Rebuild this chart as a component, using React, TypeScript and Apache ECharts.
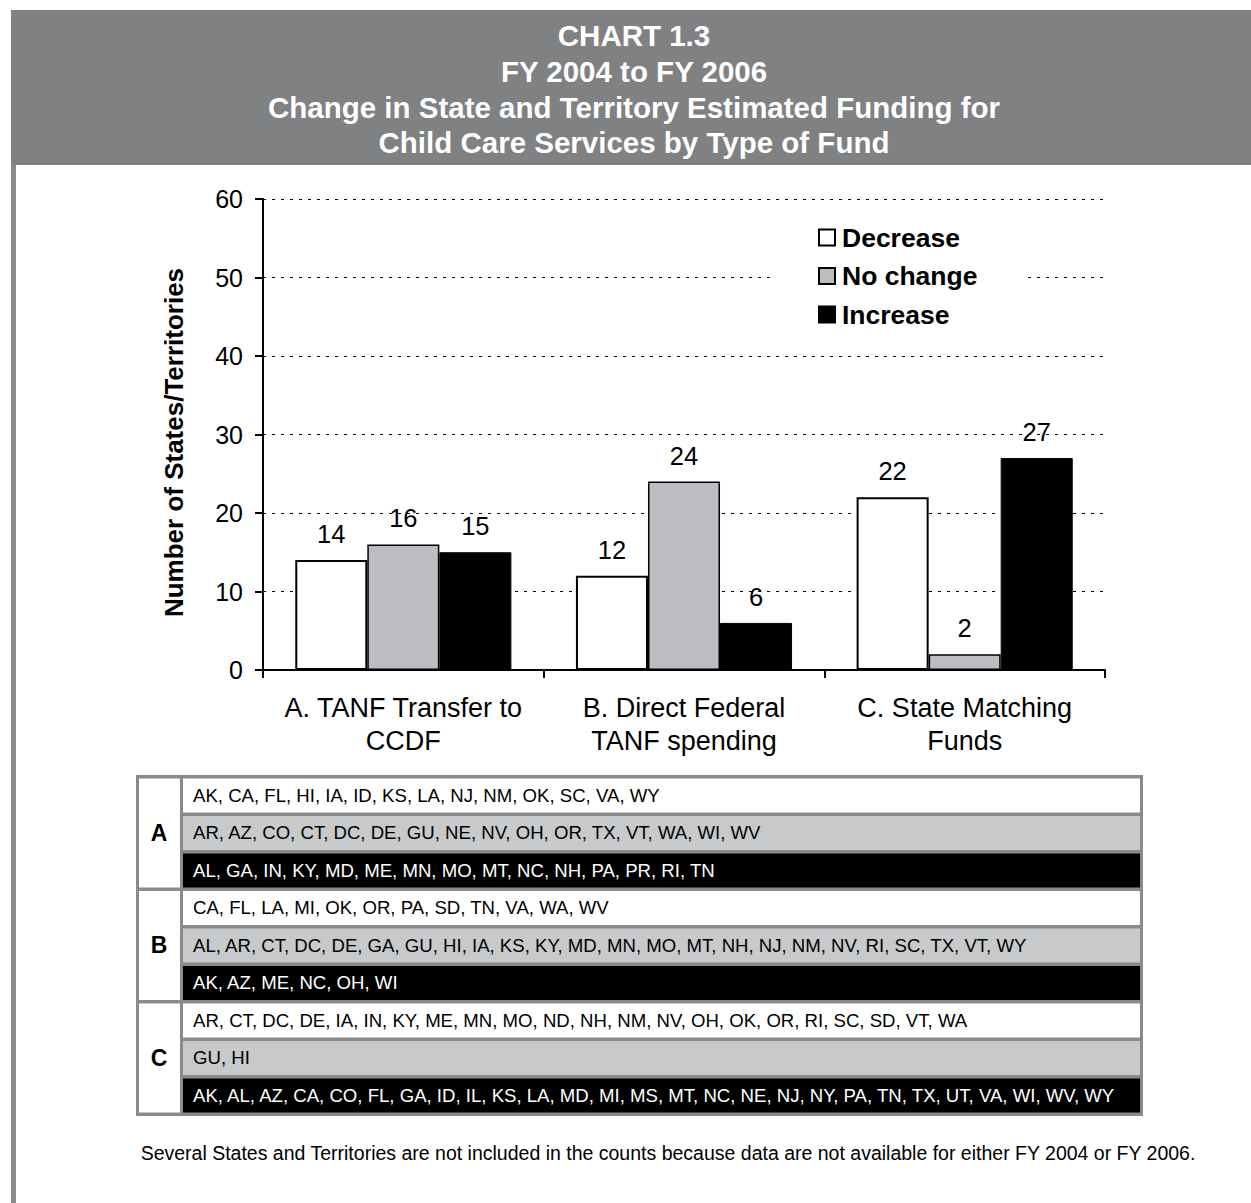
import React, { useEffect, useRef } from "react";
import * as echarts from "echarts";

const categories = ["A. TANF Transfer to\nCCDF", "B. Direct Federal\nTANF spending", "C. State Matching\nFunds"];
const decreaseValues = [14, 12, 22];
const noChangeValues = [16, 24, 2];
const increaseValues = [15, 6, 27];
const yTicks = { min: 0, max: 60, interval: 10 };

const titleLines = [
  "CHART 1.3",
  "FY 2004 to FY 2006",
  "Change in State and Territory Estimated Funding for",
  "Child Care Services by Type of Fund",
];

const groupLetters = ["A", "B", "C"];
const decreaseStates = [
  "AK, CA, FL, HI, IA, ID, KS, LA, NJ, NM, OK, SC, VA, WY",
  "CA, FL, LA, MI, OK, OR, PA, SD, TN, VA, WA, WV",
  "AR, CT, DC, DE, IA, IN, KY, ME, MN, MO, ND, NH, NM, NV, OH, OK, OR, RI, SC, SD, VT, WA",
];
const noChangeStates = [
  "AR, AZ, CO, CT, DC, DE, GU, NE, NV, OH, OR, TX, VT, WA, WI, WV",
  "AL, AR, CT, DC, DE, GA, GU, HI, IA, KS, KY, MD, MN, MO, MT, NH, NJ, NM, NV, RI, SC, TX, VT, WY",
  "GU, HI",
];
const increaseStates = [
  "AL, GA, IN, KY, MD, ME, MN, MO, MT, NC, NH, PA, PR, RI, TN",
  "AK, AZ, ME, NC, OH, WI",
  "AK, AL, AZ, CA, CO, FL, GA, ID, IL, KS, LA, MD, MI, MS, MT, NC, NE, NJ, NY, PA, TN, TX, UT, VA, WI, WV, WY",
];
const footnote =
  "Several States and Territories are not included in the counts because data are not available for either FY 2004 or FY 2006.";

const FONT = "'Liberation Sans', Arial, sans-serif";
const GRAY_BAR = "#bcbdc0";
const GRAY_ROW = "#c8c9cb";
const BORDER = "#8a8a8c";

export default function App() {
  const ref = useRef<HTMLDivElement>(null);
  useEffect(() => {
    if (!ref.current) return;
    const chart = echarts.init(ref.current, undefined, { renderer: "svg" });

    const graphics: any[] = [];
    graphics.push({ type: "rect", shape: { x: 11, y: 10, width: 1240, height: 155 }, style: { fill: "#808183" }, silent: true });
    graphics.push({ type: "rect", shape: { x: 11, y: 165, width: 5, height: 1038 }, style: { fill: BORDER }, silent: true });
    const titleY = [35, 71, 107, 142];
    titleLines.forEach((t, i) => {
      graphics.push({
        type: "text",
        x: 634,
        y: titleY[i],
        style: { text: t, fill: "#fff", font: `bold 29.5px ${FONT}`, textAlign: "center", textVerticalAlign: "middle" },
        silent: true,
      });
    });

    // table
    const tLeft = 136, tRight = 1143, tTop = 775, tBottom = 1116;
    graphics.push({ type: "rect", shape: { x: tLeft, y: tTop, width: tRight - tLeft, height: tBottom - tTop }, style: { fill: BORDER }, silent: true });
    const pitch = (tBottom - tTop - 3.5) / 9;
    const rowH = pitch - 3.6;
    const rowColors = ["#ffffff", GRAY_ROW, "#000000"];
    const textColors = ["#000", "#000", "#fff"];
    groupLetters.forEach((g, gi) => {
      const gTop = tTop + 3.5 + gi * 3 * pitch;
      graphics.push({ type: "rect", shape: { x: tLeft + 3, y: gTop, width: 41, height: 3 * pitch - 3.6 }, style: { fill: "#fff" }, silent: true });
      graphics.push({
        type: "text", x: 159, y: gTop + (3 * pitch - 3.6) / 2,
        style: { text: g, fill: "#000", font: `bold 23px ${FONT}`, textAlign: "center", textVerticalAlign: "middle" }, silent: true,
      });
      const rows = [decreaseStates[gi], noChangeStates[gi], increaseStates[gi]];
      rows.forEach((r, ri) => {
        const y = gTop + ri * pitch;
        graphics.push({ type: "rect", shape: { x: 183, y, width: tRight - 3 - 183, height: rowH }, style: { fill: rowColors[ri] }, silent: true });
        graphics.push({
          type: "text", x: 193, y: y + rowH / 2,
          style: { text: r, fill: textColors[ri], font: `18.6px ${FONT}`, textAlign: "left", textVerticalAlign: "middle" }, silent: true,
        });
      });
    });
    graphics.push({
      type: "text", x: 668, y: 1153,
      style: { text: footnote, fill: "#000", font: `19.5px ${FONT}`, textAlign: "center", textVerticalAlign: "middle" }, silent: true,
    });

    const labelCfg = { show: true, position: "top", distance: 13, fontSize: 25.5, color: "#000", fontFamily: FONT };

    chart.setOption({
      animation: false,
      textStyle: { fontFamily: FONT },
      grid: { left: 263, right: 146, top: 199, bottom: 533, containLabel: false },
      legend: {
        orient: "vertical",
        left: 770,
        top: 216,
        padding: [8, 48, 8, 48],
        backgroundColor: "#fff",
        itemWidth: 16,
        itemHeight: 16,
        itemGap: 11.5,
        icon: "rect",
        textStyle: { fontSize: 26.5, fontWeight: "bold", color: "#000", fontFamily: FONT, padding: [0, 0, 0, 2] },
        data: ["Decrease", "No change", "Increase"],
        z: 10,
      },
      xAxis: {
        type: "category",
        data: categories,
        axisLine: { lineStyle: { color: "#000", width: 2 } },
        axisTick: { show: true, length: 8, lineStyle: { color: "#000", width: 2 } },
        axisLabel: { interval: 0, hideOverlap: false, fontSize: 27, color: "#000", margin: 21, lineHeight: 33, fontFamily: FONT },
      },
      yAxis: {
        type: "value",
        min: yTicks.min,
        max: yTicks.max,
        interval: yTicks.interval,
        name: "Number of States/Territories",
        nameLocation: "middle",
        nameGap: 76,
        nameTextStyle: { fontSize: 26, fontWeight: "bold", color: "#000", fontFamily: FONT, padding: [0, 16, 0, 0] },
        axisLine: { show: true, lineStyle: { color: "#000", width: 2 } },
        axisTick: { show: true, length: 8, lineStyle: { color: "#000", width: 2 } },
        axisLabel: { fontSize: 25, color: "#000", margin: 20, fontFamily: FONT },
        splitLine: { show: true, lineStyle: { color: "#000", width: 1, type: [3, 6] } },
      },
      series: [
        {
          name: "Decrease", type: "bar", data: decreaseValues, barGap: "0%", barCategoryGap: "23%",
          itemStyle: { color: "#fff", borderColor: "#000", borderWidth: 2 }, label: labelCfg,
        },
        {
          name: "No change", type: "bar", data: noChangeValues, barGap: "0%", barCategoryGap: "23%",
          itemStyle: { color: GRAY_BAR, borderColor: "#000", borderWidth: 1.5 }, label: labelCfg,
        },
        {
          name: "Increase", type: "bar", data: increaseValues, barGap: "0%", barCategoryGap: "23%",
          itemStyle: { color: "#000", borderColor: "#000", borderWidth: 1 }, label: labelCfg,
        },
      ],
      graphic: graphics,
    });
    return () => chart.dispose();
  }, []);
  return <div ref={ref} style={{ position: "absolute", left: 0, top: 0, width: 1251, height: 1203, background: "#fff" }} />;
}
